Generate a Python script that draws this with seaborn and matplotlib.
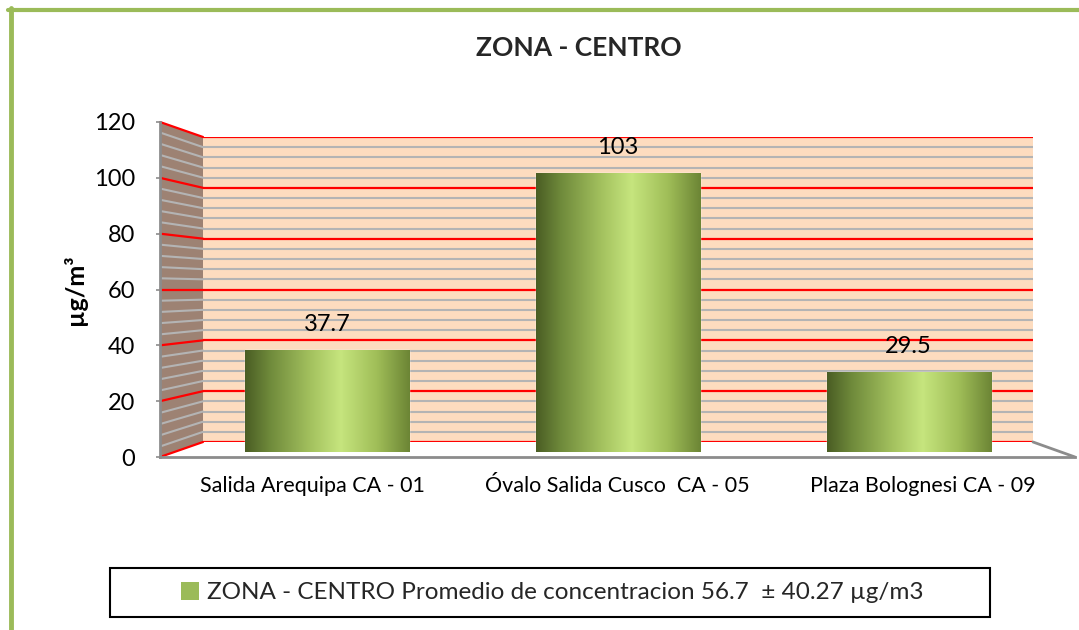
import matplotlib
matplotlib.use("Agg")
import matplotlib.pyplot as plt
import numpy as np
import seaborn as sns
from matplotlib.colors import LinearSegmentedColormap
from matplotlib.lines import Line2D
from matplotlib.patches import Patch, Polygon, Rectangle

sites = ["Salida Arequipa CA - 01", "Óvalo Salida Cusco  CA - 05", "Plaza Bolognesi CA - 09"]
values = [37.7, 103, 29.5]
y_ticks = [0, 20, 40, 60, 80, 100, 120]
title = "ZONA - CENTRO"
y_label = "µg/m³"
legend_label = "ZONA - CENTRO Promedio de concentracion 56.7  ± 40.27 µg/m3"

sns.set_theme(style="white")
plt.rcParams["font.family"] = ["Lato", "DejaVu Sans"]

W, H = 1079, 630
fig = plt.figure(figsize=(W / 100, H / 100), dpi=100)
fig.patch.set_facecolor("white")


def px_axes(x0, y0, x1, y1, z):
    # axes placed by pixel box (top-left origin)
    return fig.add_axes([x0 / W, 1 - y1 / H, (x1 - x0) / W, (y1 - y0) / H], zorder=z)


GREEN = "#9BBB59"
SPINE = "#8C8C8C"
RED = "#FF0000"
MINOR = "#B4B4B4"
WALL = "#FDDCBF"
SIDE = "#9D8273"

# back wall of the 3d box
ax_back = px_axes(203, 137, 1033, 442, 0)
ax_back.set_facecolor(WALL)
ax_back.set_ylim(0, 120)
ax_back.set_xlim(0, 1)
ax_back.set_yticks(y_ticks)
ax_back.set_yticks(np.arange(0, 121, 4), minor=True)
ax_back.grid(True, which="major", axis="y", color=RED, lw=1.6)
ax_back.grid(True, which="minor", axis="y", color=MINOR, lw=1.5)
ax_back.set_axisbelow(True)
ax_back.tick_params(which="both", left=False, bottom=False, labelleft=False, labelbottom=False)
ax_back.set_xticks([])
for s in ax_back.spines.values():
    s.set_visible(False)

# front frame: ticks, category labels, floor edge
ax_front = px_axes(160, 122, 1075, 457, 1)
ax_front.patch.set_alpha(0)
ax_front.set_ylim(0, 120)
ax_front.set_xlim(-0.5, 2.5)
ax_front.set_yticks(y_ticks)
ax_front.set_xticks(range(len(sites)), sites)
ax_front.tick_params(axis="y", labelsize=17, length=3, width=1.2, color=SPINE, pad=15, direction="out", left=True)
ax_front.tick_params(axis="x", labelsize=15.5, length=0, pad=14)
for lab in ax_front.get_yticklabels() + ax_front.get_xticklabels():
    lab.set_color("black")
ax_front.set_ylabel(y_label, fontsize=18, fontweight="bold", labelpad=5, color="black")
for k in ["top", "right"]:
    ax_front.spines[k].set_visible(False)
for k in ["left", "bottom"]:
    ax_front.spines[k].set_color(SPINE)
    ax_front.spines[k].set_linewidth(2)

# cylinders, at mid depth
ax_bar = px_axes(182, 127, 1054, 452, 2)
ax_bar.patch.set_alpha(0)
sns.barplot(x=sites, y=values, color=GREEN, width=0.565, ax=ax_bar)
shade = LinearSegmentedColormap.from_list(
    "cyl",
    [(0, "#4A5D24"), (0.15, "#6F8A3B"), (0.4, "#A4C25F"), (0.58, "#C6E57E"),
     (0.8, "#A0BE58"), (1, "#6C8535")],
)
grad = np.linspace(0, 1, 256).reshape(1, -1)
for p in ax_bar.patches:
    x0, w, h = p.get_x(), p.get_width(), p.get_height()
    im = ax_bar.imshow(grad, cmap=shade, extent=(x0, x0 + w, 0, h), aspect="auto", zorder=3)
    im.set_clip_path(p)
ax_bar.bar_label(ax_bar.containers[0], fmt="%g", padding=11, fontsize=17, color="black")
ax_bar.set_xlim(-0.5, 2.5)
ax_bar.set_ylim(0, 120)
ax_bar.set_axis_off()

# decoration layer in pixel coords (bottom-left origin)
deco = fig.add_axes([0, 0, 1, 1], zorder=0.5)
deco.set_xlim(0, W)
deco.set_ylim(0, H)
deco.set_axis_off()


def edge(ax, v, right=False):
    x = ax.get_xlim()[1 if right else 0]
    return ax.transData.transform((x, v))


f0, b0 = edge(ax_front, 0), edge(ax_back, 0)
f1, b1 = edge(ax_front, 120), edge(ax_back, 120)
deco.add_patch(Polygon([f0, b0, b1, f1], closed=True, facecolor=SIDE, edgecolor="none"))
for v in ax_back.yaxis.get_minorticklocs():
    a, b = edge(ax_front, v), edge(ax_back, v)
    deco.add_line(Line2D([a[0] + 2, b[0]], [a[1], b[1]], color=MINOR, lw=1.5))
for v in ax_back.yaxis.get_majorticklocs():
    a, b = edge(ax_front, v), edge(ax_back, v)
    deco.add_line(Line2D([a[0], b[0]], [a[1], b[1]], color=RED, lw=1.6))
r0, rb = edge(ax_front, 0, True), edge(ax_back, 0, True)
deco.add_line(Line2D([rb[0], r0[0]], [rb[1], r0[1]], color=SPINE, lw=2))

# outer green frame (top + left visible)
deco.add_line(Line2D([8, W], [H - 9.5, H - 9.5], color=GREEN, lw=3))
deco.add_line(Line2D([10.5, 10.5], [0, H - 8], color=GREEN, lw=3.5))

# legend box
deco.add_patch(Rectangle((110, H - 617), 880, 49, facecolor="white", edgecolor="black", lw=1.5))
fig.legend(
    handles=[Patch(facecolor=GREEN, edgecolor="none", label=legend_label)],
    loc="center", bbox_to_anchor=(552 / W, 1 - 592.5 / H), frameon=False,
    fontsize=17.5, handlelength=0.75, handleheight=0.75, handletextpad=0.3,
)

fig.text(579 / W, 1 - 48 / H, title, ha="center", va="center", fontsize=19, fontweight="bold")

fig.savefig("out.png", dpi=100)
